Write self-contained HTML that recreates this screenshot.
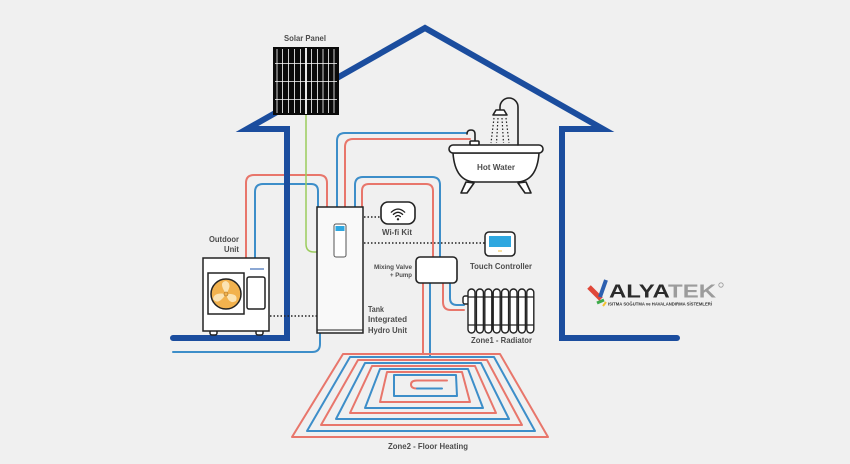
<!DOCTYPE html>
<html><head><meta charset="utf-8"><style>
html,body{margin:0;padding:0;background:#f0f0f0;}
svg{display:block;}
text{font-family:"Liberation Sans",sans-serif;fill:#4d4d4d;font-weight:bold;}
</style></head><body>
<svg width="850" height="464" viewBox="0 0 850 464" xmlns="http://www.w3.org/2000/svg">
<rect width="850" height="464" fill="#f0f0f0"/>

<!-- Pipes -->
<g fill="none" stroke-width="2" stroke-linecap="round" stroke-linejoin="round">
  <!-- outdoor pair -->
  <path d="M246,258 V183 Q246,175 254,175 H319 Q327,175 327,183 V207" stroke="#e8766b"/>
  <path d="M255,258 V192 Q255,184 263,184 H311 Q318,184 318,191 V207" stroke="#3d8ec9"/>
  <!-- hot water pair -->
  <path d="M337,207 V141 Q337,133 345,133 H466" stroke="#3d8ec9"/>
  <path d="M345,207 V147 Q345,139 353,139 H470" stroke="#e8766b"/>
  <!-- mixing valve pair -->
  <path d="M355,207 V185 Q355,177 363,177 H432 Q440,177 440,185 V257" stroke="#3d8ec9"/>
  <path d="M362,207 V191 Q362,184 369,184 H426 Q433,184 433,191 V257" stroke="#e8766b"/>
  <!-- to radiator -->
  <path d="M443,283 V302 Q443,310 451,310 H464" stroke="#e8766b"/>
  <path d="M450,283 V298 Q450,305 457,305 H464" stroke="#3d8ec9"/>
  <!-- to floor -->
  <path d="M423,283 V354" stroke="#e8766b"/>
  <path d="M430,283 V357" stroke="#3d8ec9"/>
  <!-- hydro return -->
  <path d="M320,333 V344 Q320,352 312,352 H173" stroke="#3d8ec9"/>

  <!-- floor heating rings -->
  <path d="M343,354 H500 L548,437 H292 Z" stroke="#e8766b"/>
  <path d="M350,357 H494 L535,431 H307 Z" stroke="#3d8ec9"/>
  <path d="M358,360 H487 L522,425 H321 Z" stroke="#e8766b"/>
  <path d="M365,363 H481 L509,419 H336 Z" stroke="#3d8ec9"/>
  <path d="M372,366 H475 L496,413 H350 Z" stroke="#e8766b"/>
  <path d="M380,369 H468 L483,408 H365 Z" stroke="#3d8ec9"/>
  <path d="M387,372 H462 L470,402 H380 Z" stroke="#e8766b"/>
  <path d="M394,375 H456 L457,396 H394 Z" stroke="#3d8ec9"/>
  <path d="M447,380.5 H417 Q411,380.5 411,384.5 Q411,388.5 417,388.5" stroke="#e8766b"/>
  <path d="M417,388.5 H442" stroke="#3d8ec9"/>
</g>

<!-- green solar line -->
<path d="M306,115 V244 Q306,252 314,252 H318" fill="none" stroke="#9bcc5c" stroke-width="1.5"/>

<!-- House outline -->
<path d="M173,338 H287 V129 H247 L425,28 L603,129 H562 V338 H677" fill="none" stroke="#1b4d9e" stroke-width="6" stroke-linejoin="miter" stroke-linecap="round"/>

<!-- Solar panel -->
<rect x="273" y="47" width="66" height="68" fill="#0a0a0a"/>
<g stroke="#ffffff" stroke-width="0.8">
  <line x1="277" y1="49" x2="277" y2="113"/>
  <line x1="282.5" y1="49" x2="282.5" y2="113"/>
  <line x1="288.5" y1="49" x2="288.5" y2="113"/>
  <line x1="294.5" y1="49" x2="294.5" y2="113"/>
  <line x1="300.5" y1="49" x2="300.5" y2="113"/>
  <line x1="311.5" y1="49" x2="311.5" y2="113"/>
  <line x1="317.5" y1="49" x2="317.5" y2="113"/>
  <line x1="323" y1="49" x2="323" y2="113"/>
  <line x1="328.5" y1="49" x2="328.5" y2="113"/>
  <line x1="334" y1="49" x2="334" y2="113"/>
  <line x1="275" y1="63.5" x2="337" y2="63.5"/>
  <line x1="275" y1="81.5" x2="337" y2="81.5"/>
  <line x1="275" y1="99.5" x2="337" y2="99.5"/>
</g>
<line x1="306" y1="48" x2="306" y2="114" stroke="#fff" stroke-width="1.8"/>
<text x="284" y="41" font-size="8.5" textLength="42" lengthAdjust="spacingAndGlyphs">Solar Panel</text>

<!-- Bathtub -->
<g stroke="#222" stroke-width="1.6" fill="#fff" stroke-linejoin="round" stroke-linecap="round">
  <path d="M466,182 L461,193 L467,193 L474,183 Z"/>
  <path d="M526,182 L531,193 L525,193 L518,183 Z"/>
  <path d="M453,153 Q455,182 476,182 H516 Q537,182 539,153 Z"/>
  <rect x="449" y="145" width="94" height="8" rx="4"/>
  <path d="M518,145 V107 A9,9 0 0 0 500,107 V110" fill="none"/>
  <path d="M493,115 L496,110 H504 L507,115 Z"/>
  <path d="M467,134 Q467,130 471,130 Q475,130 475,134 V143" fill="none"/>
  <rect x="470" y="141" width="9" height="4" rx="1"/>
</g>
<g stroke="#222" stroke-width="1.2" stroke-dasharray="1.5 2" fill="none">
  <line x1="494" y1="118" x2="491" y2="143"/>
  <line x1="498" y1="118" x2="496.5" y2="143"/>
  <line x1="502" y1="118" x2="503.5" y2="143"/>
  <line x1="506" y1="118" x2="509" y2="143"/>
</g>
<text x="477" y="170" font-size="8.5" textLength="38" lengthAdjust="spacingAndGlyphs">Hot Water</text>

<!-- Dotted connections -->
<g stroke="#222" stroke-width="1.5" stroke-dasharray="1.5 2" fill="none">
  <line x1="270" y1="316" x2="317" y2="316"/>
  <line x1="364" y1="217" x2="381" y2="217"/>
  <line x1="364" y1="243" x2="485" y2="243"/>
</g>

<!-- Outdoor unit -->
<g stroke="#222" stroke-width="1.5">
  <rect x="210" y="330" width="7" height="5" rx="2" fill="#fff"/>
  <rect x="256" y="330" width="7" height="5" rx="2" fill="#fff"/>
  <rect x="203" y="258" width="66" height="73" fill="#fff"/>
  <rect x="208" y="273" width="36" height="41" fill="#fff"/>
  <circle cx="226" cy="294" r="15" fill="#f2b24e"/>
  <rect x="247" y="277" width="18" height="32" rx="2" fill="#fff"/>
</g>
<g fill="#fbe3b3">
  <path d="M226,294 Q218,282 226,281 Q233,284 226,294 Z"/>
  <path d="M226,294 Q239,293 236,301 Q229,305 226,294 Z"/>
  <path d="M226,294 Q218,306 213,299 Q214,292 226,294 Z"/>
</g>
<circle cx="226" cy="294" r="2" fill="#f2b24e" stroke="#a06a20" stroke-width="0.6"/>
<line x1="250" y1="269" x2="264" y2="269" stroke="#3f6fb8" stroke-width="1.2"/>
<text x="209" y="242" font-size="8.5" textLength="30" lengthAdjust="spacingAndGlyphs">Outdoor</text>
<text x="224" y="252" font-size="8.5" textLength="15" lengthAdjust="spacingAndGlyphs">Unit</text>

<!-- Hydro unit -->
<rect x="317" y="207" width="46" height="126" fill="#f9f9f9" stroke="#222" stroke-width="1.5"/>
<line x1="317" y1="330" x2="363" y2="330" stroke="#222" stroke-width="1"/>
<rect x="334" y="224" width="12" height="33" rx="2" fill="#fff" stroke="#555" stroke-width="1"/>
<rect x="335.5" y="226" width="9" height="5" fill="#2ea7e0"/>
<text x="368" y="312" font-size="8.5" textLength="16" lengthAdjust="spacingAndGlyphs">Tank</text>
<text x="368" y="322" font-size="8.5" textLength="39" lengthAdjust="spacingAndGlyphs">Integrated</text>
<text x="368" y="333" font-size="8.5" textLength="39" lengthAdjust="spacingAndGlyphs">Hydro Unit</text>

<!-- Wifi kit -->
<rect x="381" y="202" width="34" height="22" rx="7" fill="#fff" stroke="#222" stroke-width="1.6"/>
<g fill="none" stroke="#222" stroke-width="1.3" stroke-linecap="round">
  <path d="M395.6,216.6 Q398,214.4 400.4,216.6"/>
  <path d="M393.4,214.4 Q398,210.2 402.6,214.4"/>
  <path d="M391.3,212.2 Q398,206 404.7,212.2"/>
</g>
<circle cx="398" cy="219.3" r="1.2" fill="#222"/>
<text x="382" y="235" font-size="8.5" textLength="30" lengthAdjust="spacingAndGlyphs">Wi-fi Kit</text>

<!-- Mixing valve -->
<rect x="416" y="257" width="41" height="26" rx="4" fill="#fff" stroke="#222" stroke-width="1.6"/>
<text x="374" y="269" font-size="6.5" textLength="38" lengthAdjust="spacingAndGlyphs">Mixing Valve</text>
<text x="390" y="277" font-size="6.5" textLength="22" lengthAdjust="spacingAndGlyphs">+ Pump</text>

<!-- Touch controller -->
<rect x="485" y="232" width="30" height="24" rx="4" fill="#fff" stroke="#222" stroke-width="1.5"/>
<rect x="489" y="236" width="22" height="11" fill="#2ea7e0"/>
<line x1="498" y1="251" x2="502" y2="251" stroke="#f0c040" stroke-width="1"/>
<text x="470" y="269" font-size="8.5" textLength="62" lengthAdjust="spacingAndGlyphs">Touch Controller</text>

<!-- Radiator -->
<g stroke="#222" stroke-width="1.4" fill="#fff">
  <rect x="463" y="296" width="7" height="8" rx="2"/>
  <rect x="468" y="289" width="7" height="44" rx="3.5"/>
  <rect x="476.4" y="289" width="7" height="44" rx="3.5"/>
  <rect x="484.8" y="289" width="7" height="44" rx="3.5"/>
  <rect x="493.2" y="289" width="7" height="44" rx="3.5"/>
  <rect x="501.6" y="289" width="7" height="44" rx="3.5"/>
  <rect x="510" y="289" width="7" height="44" rx="3.5"/>
  <rect x="518.4" y="289" width="7" height="44" rx="3.5"/>
  <rect x="526.8" y="289" width="7" height="44" rx="3.5"/>
</g>
<g stroke="#222" stroke-width="1.2">
  <line x1="468" y1="297" x2="534" y2="297"/>
  <line x1="468" y1="325" x2="534" y2="325"/>
</g>
<text x="471" y="343" font-size="8.5" textLength="61" lengthAdjust="spacingAndGlyphs">Zone1 - Radiator</text>

<text x="388" y="449" font-size="8.5" textLength="80" lengthAdjust="spacingAndGlyphs">Zone2 - Floor Heating</text>

<!-- Logo -->
<g stroke-linecap="butt">
  <line x1="589" y1="287" x2="601" y2="299" stroke="#e0483a" stroke-width="5"/>
  <line x1="606" y1="280" x2="600" y2="297" stroke="#2c5fb0" stroke-width="4"/>
  <line x1="597" y1="303" x2="604" y2="300" stroke="#3cab4a" stroke-width="3"/>
  <line x1="603" y1="306" x2="606" y2="302" stroke="#f2c230" stroke-width="2"/>
</g>
<text x="609" y="297.5" font-size="18" textLength="107" lengthAdjust="spacingAndGlyphs" style="fill:#2b2b2b">ALYA<tspan style="fill:#9c9c9c">TEK</tspan></text>
<circle cx="721" cy="285" r="2.2" fill="none" stroke="#999" stroke-width="0.8"/>
<text x="608" y="305.5" font-size="4.6" textLength="104" lengthAdjust="spacingAndGlyphs" style="fill:#333">ISITMA SOĞUTMA ve HAVALANDIRMA SİSTEMLERİ</text>
</svg>
</body></html>
